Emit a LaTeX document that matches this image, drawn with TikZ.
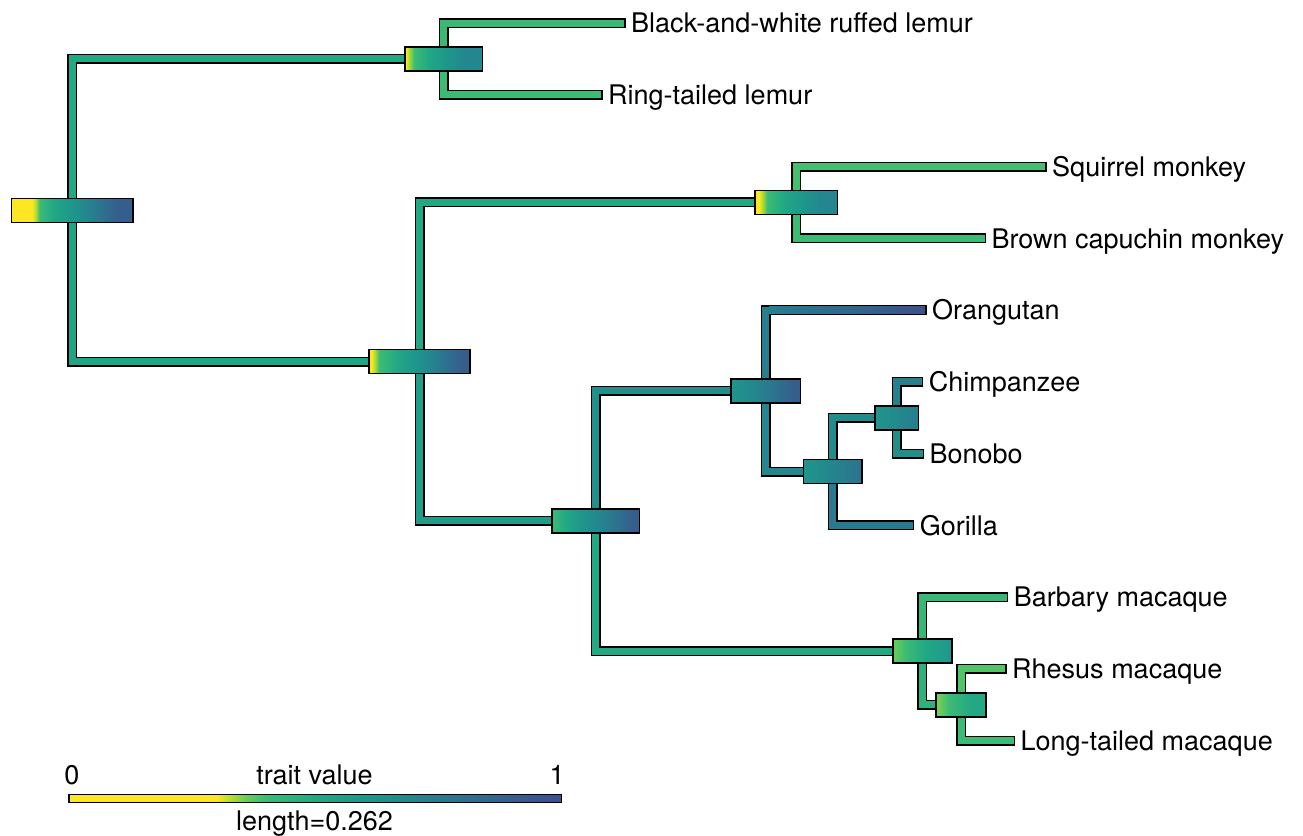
\documentclass[tikz,border=0pt]{standalone}
\usepackage{fontspec}
\setmainfont{TeX Gyre Heros}
\usetikzlibrary{backgrounds,calc}
\definecolor{vYellow}{RGB}{253, 231, 37}
\definecolor{vLime}{RGB}{175, 221, 48}
\definecolor{vSpring}{RGB}{130, 210, 78}
\definecolor{vLight}{RGB}{105, 204, 90}
\definecolor{vGreen}{RGB}{60, 187, 117}
\definecolor{vSea}{RGB}{34, 168, 132}
\definecolor{vTeal}{RGB}{31, 150, 139}
\definecolor{vCyan}{RGB}{36, 134, 142}
\definecolor{vOcean}{RGB}{40, 124, 142}
\definecolor{vSteel}{RGB}{44, 114, 142}
\definecolor{vBlue}{RGB}{54, 94, 141}
\definecolor{vNavy}{RGB}{60, 80, 139}
\pgfdeclarehorizontalshading{rootShade}{100bp}{color(0bp)=(vYellow); color(33.5bp)=(vYellow); color(35bp)=(vLime); color(36.5bp)=(vGreen); color(42bp)=(vSea); color(50bp)=(vTeal); color(56bp)=(vCyan); color(62bp)=(vSteel); color(69bp)=(vBlue); color(100bp)=(vBlue)}
\pgfdeclarehorizontalshading{lemShade}{100bp}{color(0bp)=(vYellow); color(25.8bp)=(vYellow); color(27.5bp)=(vLime); color(31bp)=(vGreen); color(40bp)=(vSea); color(52bp)=(vTeal); color(64bp)=(vCyan); color(100bp)=(vCyan)}
\pgfdeclarehorizontalshading{primShade}{100bp}{color(0bp)=(vYellow); color(26.2bp)=(vYellow); color(27.8bp)=(vLime); color(30bp)=(vGreen); color(39bp)=(vSea); color(48bp)=(vTeal); color(55bp)=(vCyan); color(63bp)=(vSteel); color(71bp)=(vBlue); color(100bp)=(vBlue)}
\pgfdeclarehorizontalshading{monkShade}{100bp}{color(0bp)=(vYellow); color(27.5bp)=(vYellow); color(29.5bp)=(vLime); color(32.5bp)=(vGreen); color(42bp)=(vSea); color(54bp)=(vTeal); color(65bp)=(vCyan); color(100bp)=(vCyan)}
\pgfdeclarehorizontalshading{catShade}{100bp}{color(0bp)=(vGreen); color(25bp)=(vGreen); color(33bp)=(vSea); color(42bp)=(vTeal); color(52bp)=(vCyan); color(62bp)=(vSteel); color(71bp)=(vBlue); color(100bp)=(vBlue)}
\pgfdeclarehorizontalshading{apeShade}{100bp}{color(0bp)=(vTeal); color(25bp)=(vTeal); color(42bp)=(vCyan); color(57bp)=(vSteel); color(70bp)=(vBlue); color(100bp)=(vBlue)}
\pgfdeclarehorizontalshading{afrShade}{100bp}{color(0bp)=(vTeal); color(25bp)=(vTeal); color(47bp)=(vCyan); color(75bp)=(vSteel); color(100bp)=(vSteel)}
\pgfdeclarehorizontalshading{chiShade}{100bp}{color(0bp)=(vTeal); color(25bp)=(vTeal); color(55bp)=(vCyan); color(75bp)=(vOcean); color(100bp)=(vOcean)}
\pgfdeclarehorizontalshading{macShade}{100bp}{color(0bp)=(vLight); color(25bp)=(vLight); color(36bp)=(vGreen); color(52bp)=(vSea); color(75bp)=(vTeal); color(100bp)=(vTeal)}
\pgfdeclarehorizontalshading{rheShade}{100bp}{color(0bp)=(vSpring); color(25bp)=(vSpring); color(38bp)=(vGreen); color(60bp)=(vSea); color(100bp)=(vSea)}
\pgfdeclarehorizontalshading{barShade}{100bp}{color(0bp)=(vYellow); color(40bp)=(vYellow); color(41.5bp)=(vLime); color(43bp)=(vLight); color(45bp)=(vGreen); color(50bp)=(vSea); color(55bp)=(vTeal); color(60bp)=(vCyan); color(65bp)=(vSteel); color(70bp)=(vBlue); color(75bp)=(vNavy); color(100bp)=(vNavy)}
\tikzset{
	cibox/.style={draw=black, line width=1.5pt, rectangle, inner sep=0pt, minimum height=24pt, shade},
	txt/.style={inner sep=0pt, text height=19.4pt, text depth=0pt},
	tiplabel/.style={txt, anchor=west, inner xsep=10.3pt},
	elbow/.style={to path={|- (\tikztotarget)}},
	branch/.style={draw=black, line width=1.5pt, double=#1, double distance=7pt, line cap=rect, elbow},
}

\begin{document}
\begin{tikzpicture}[x=1pt, y=-1pt, font=\fontsize{27}{31}\selectfont]
			\useasboundingbox (0,0) rectangle (1303,835);

			\draw (72.3,210.3) node[cibox, minimum width=121.5pt, shading=rootShade] (root) {};
			\draw (443.7,58.9) node[cibox, minimum width=77.8pt, shading=lemShade] (lem) {};
			\draw (419.5,361.7) node[cibox, minimum width=100.8pt, shading=primShade] (prim) {};
			\draw (796.3,202.4) node[cibox, minimum width=82.8pt, shading=monkShade] (monk) {};
			\draw (595.5,520.9) node[cibox, minimum width=87.5pt, shading=catShade] (cat) {};
			\draw (765.5,390.8) node[cibox, minimum width=69.5pt, shading=apeShade] (ape) {};
			\draw (832.6,471.6) node[cibox, minimum width=58.5pt, shading=afrShade] (afr) {};
			\draw (896.8,417.75) node[cibox, minimum width=43.8pt, shading=chiShade] (chi) {};
			\draw (922.4,651.0) node[cibox, minimum width=58.8pt, shading=macShade] (mac) {};
			\draw (961,704.8) node[cibox, minimum width=50.2pt, shading=rheShade] (rhe) {};

			\draw (620.7,23) node[tiplabel] (bwr) {Black-and-white ruffed lemur};
			\draw (597.7,94.8) node[tiplabel] (rtl) {Ring-tailed lemur};
			\draw (1041.7,166.5) node[tiplabel] (sqm) {Squirrel monkey};
			\draw (981,238.3) node[tiplabel] (bcm) {Brown capuchin monkey};
			\draw (921.7,310.1) node[tiplabel] (ora) {Orangutan};
			\draw (918.3,381.9) node[tiplabel] (chp) {Chimpanzee};
			\draw (919,453.6) node[tiplabel] (bon) {Bonobo};
			\draw (909.3,525.4) node[tiplabel] (gor) {Gorilla};
			\draw (1003.3,597.2) node[tiplabel] (bmq) {Barbary macaque};
			\draw (1001.7,668.9) node[tiplabel] (rhm) {Rhesus macaque};
			\draw (1010,740.7) node[tiplabel] (ltm) {Long-tailed macaque};

			\begin{pgfonlayer}{background}
			\path
			(root.center) edge[branch=vSea] (lem.center)
			(root.center) edge[branch=vSea!70!vTeal] (prim.center)
			(lem.center) edge[branch=vGreen!90!vSea] (bwr.west)
			(lem.center) edge[branch=vGreen] (rtl.west)
			(prim.center) edge[branch=vSea] (monk.center)
			(prim.center) edge[branch=vTeal!60!vSea] (cat.center)
			(monk.center) edge[branch=vGreen!80!vLight] (sqm.west)
			(monk.center) edge[branch=vGreen] (bcm.west)
			(cat.center) edge[branch=vTeal!60!vCyan] (ape.center)
			(cat.center) edge[branch=vSea] (mac.center)
			(ape.center) edge[branch=vCyan!60!vSteel] (ora.west)
			(ape.center) edge[branch=vCyan] (afr.center)
			(afr.center) edge[branch=vCyan!60!vTeal] (chi.center)
			(afr.center) edge[branch=vCyan!40!vSteel] (gor.west)
			(chi.center) edge[branch=vCyan!70!vSteel] (chp.west)
			(chi.center) edge[branch=vCyan!50!vTeal] (bon.west)
			(mac.center) edge[branch=vGreen!80!vSea] (bmq.west)
			(mac.center) edge[branch=vGreen!50!vSea] (rhe.center)
			(rhe.center) edge[branch=vGreen!50!vLight] (rhm.west)
			(rhe.center) edge[branch=vGreen] (ltm.west)
			;
			\shade[left color=vCyan!60!vSteel, right color=vNavy] ($(ape.center |- ora.west)+(3.5,-3.5)$) rectangle ($(ora.west)+(3.5,3.5)$);
			\end{pgfonlayer}

			\draw (315,798.5) node[cibox, minimum width=492.5pt, minimum height=8pt, shading=barShade] (tv) {};
			\draw (72,775) node[txt] (zero) {0};
			\draw (314.5,775) node[txt] (tvl) {trait value};
			\draw (557,775) node[txt] (one) {1};
			\draw (314.5,821) node[txt] (len) {length=0.262};
		\end{tikzpicture}
\end{document}
